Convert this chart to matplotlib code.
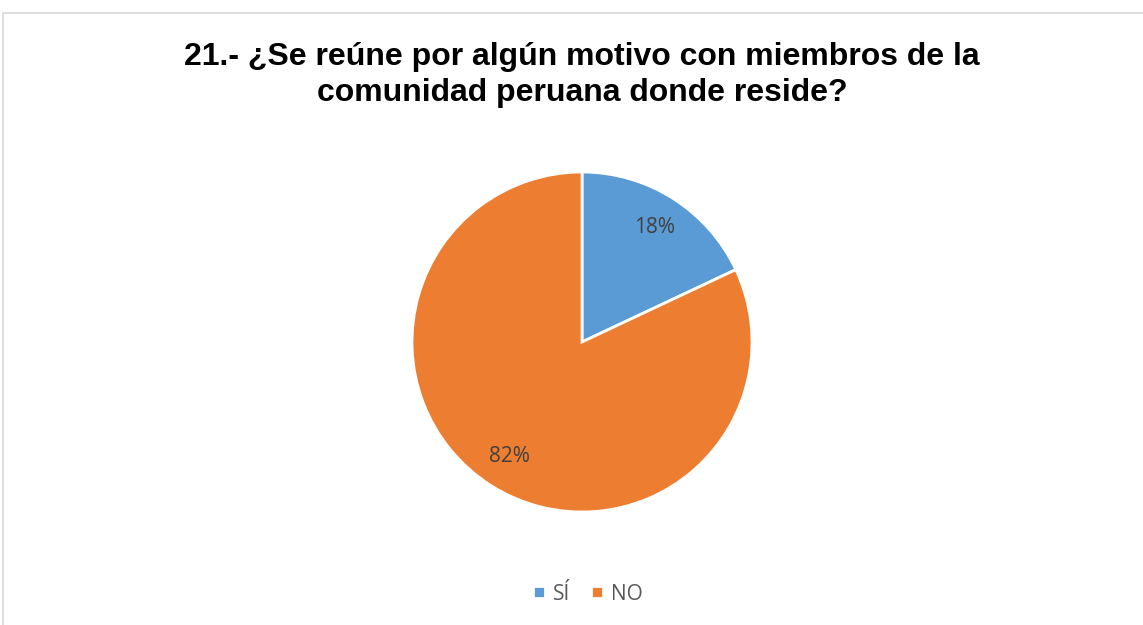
import matplotlib
matplotlib.use("Agg")
import matplotlib.pyplot as plt
from matplotlib.patches import Rectangle

categorias = ["SÍ", "NO"]
valores = [18, 82]
colores = ["#5b9bd5", "#ed7d31"]

W, H = 1143, 625
fig = plt.figure(figsize=(W / 100, H / 100), dpi=100)

# marco del gráfico
fig.patches.append(Rectangle((3 / W, -0.01), 1.0, (H - 13) / H + 0.01,
                             transform=fig.transFigure, fill=False,
                             edgecolor="#d9d9d9", linewidth=1.2))

cx, cy, r = 582, 342, 170
ax = fig.add_axes([(cx - r) / W, (H - cy - r) / H, 2 * r / W, 2 * r / H])
wedges, textos, autotextos = ax.pie(
    valores, colors=colores, startangle=90, counterclock=False,
    autopct="%1.0f%%", pctdistance=0.8,
    wedgeprops=dict(edgecolor="white", linewidth=2),
    textprops=dict(color="#404040", fontsize=15, family="Open Sans"),
)
ax.set_xlim(-1.0, 1.0)
ax.set_ylim(-1.0, 1.0)
ax.set_aspect("equal")

fig.text(582 / W, 1 - 75 / H,
         "21.- ¿Se reúne por algún motivo con miembros de la\ncomunidad peruana donde reside?",
         ha="center", va="center", fontsize=23, fontweight="bold",
         family="Liberation Sans", color="black", linespacing=1.3)

fig.legend(wedges, categorias, loc="center", bbox_to_anchor=(588 / W, 1 - 594 / H),
           ncol=2, frameon=False, handlelength=0.55, handleheight=0.55,
           handletextpad=0.4, columnspacing=1.0,
           prop=dict(family="Open Sans", size=15), labelcolor="#595959")

fig.savefig("out.png", dpi=100, facecolor="white")
